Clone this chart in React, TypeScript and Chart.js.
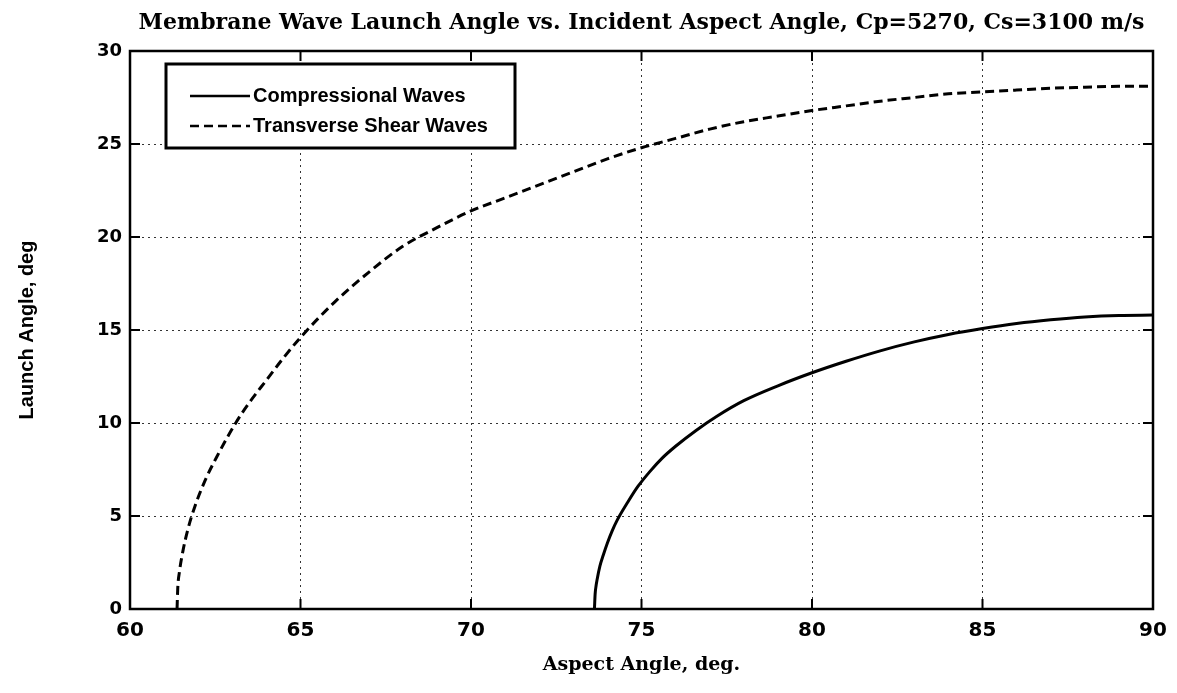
import React, { useEffect, useRef } from "react";
import { Chart, registerables } from "chart.js";

Chart.register(...registerables);

const titleText = "Membrane Wave Launch Angle vs. Incident Aspect Angle, Cp=5270, Cs=3100 m/s";
const xAxisTitle = "Aspect Angle, deg.";
const yAxisTitle = "Launch Angle, deg";
const seriesLabels = ["Compressional Waves", "Transverse Shear Waves"];

const xTicks = [60, 65, 70, 75, 80, 85, 90];
const yTicks = [0, 5, 10, 15, 20, 25, 30];

const compX = [73.62, 73.64, 73.66, 73.7, 73.78, 73.88, 74.0, 74.14, 74.28, 74.6, 74.9, 75.25, 75.6, 76.0, 76.6, 77.2, 78, 79, 80, 81, 82, 83, 84, 85, 86, 87, 88, 89, 90];
const compY = [0, 0.8, 1.15, 1.6, 2.3, 2.9, 3.55, 4.2, 4.75, 5.75, 6.6, 7.4, 8.1, 8.75, 9.6, 10.35, 11.2, 12.0, 12.7, 13.32, 13.88, 14.36, 14.76, 15.08, 15.35, 15.55, 15.7, 15.78, 15.8];

const shearX = [61.38, 61.4, 61.45, 61.55, 61.7, 61.9, 62.2, 62.55, 63.1, 63.5, 64, 64.5, 65, 66, 67, 68, 69, 70, 71, 72, 73, 74, 75, 76, 77, 78, 79, 80, 81, 82, 83, 84, 85, 86, 87, 88, 89, 90];
const shearY = [0, 1.1, 2.0, 3.1, 4.3, 5.5, 6.9, 8.2, 10.0, 11.1, 12.3, 13.5, 14.6, 16.5, 18.1, 19.5, 20.5, 21.4, 22.1, 22.8, 23.5, 24.2, 24.8, 25.3, 25.8, 26.2, 26.5, 26.8, 27.05, 27.3, 27.5, 27.7, 27.8, 27.9, 28.0, 28.05, 28.1, 28.1];

const seriesDash: number[][] = [[], [9, 5]];

const framePlugin = {
  id: "frame",
  afterDatasetsDraw(chart: any) {
    const { ctx, chartArea: a, scales } = chart;
    ctx.save();
    ctx.strokeStyle = "#000";
    ctx.setLineDash([]);
    ctx.lineWidth = 2;
    const tl = 10;
    ctx.beginPath();
    scales.x.ticks.forEach((t: any) => {
      const px = scales.x.getPixelForValue(t.value);
      ctx.moveTo(px, a.bottom);
      ctx.lineTo(px, a.bottom - tl);
      ctx.moveTo(px, a.top);
      ctx.lineTo(px, a.top + tl);
    });
    scales.y.ticks.forEach((t: any) => {
      const py = scales.y.getPixelForValue(t.value);
      ctx.moveTo(a.left, py);
      ctx.lineTo(a.left + tl, py);
      ctx.moveTo(a.right, py);
      ctx.lineTo(a.right - tl, py);
    });
    ctx.stroke();
    ctx.lineWidth = 2.5;
    ctx.strokeRect(a.left, a.top, a.right - a.left, a.bottom - a.top);
    ctx.restore();
  },
};

const legendPlugin = {
  id: "boxLegend",
  afterDraw(chart: any) {
    const { ctx, chartArea: a } = chart;
    const x0 = a.left + 36;
    const y0 = a.top + 13;
    const w = 349;
    const h = 84;
    ctx.save();
    ctx.fillStyle = "#fff";
    ctx.fillRect(x0, y0, w, h);
    ctx.strokeStyle = "#000";
    ctx.lineWidth = 3;
    ctx.setLineDash([]);
    ctx.strokeRect(x0, y0, w, h);
    ctx.font = "bold 20px 'Liberation Sans', Arial, sans-serif";
    ctx.textBaseline = "middle";
    ctx.fillStyle = "#000";
    chart.data.datasets.forEach((ds: any, i: number) => {
      const y = y0 + 32 + i * 30;
      ctx.beginPath();
      ctx.lineWidth = 2.5;
      ctx.setLineDash(ds.borderDash || []);
      ctx.moveTo(x0 + 24, y);
      ctx.lineTo(x0 + 84, y);
      ctx.stroke();
      ctx.setLineDash([]);
      ctx.fillText(ds.label, x0 + 87, y);
    });
    ctx.restore();
  },
};

export default function App() {
  const ref = useRef<HTMLCanvasElement | null>(null);

  useEffect(() => {
    if (!ref.current) return;
    const chart = new Chart(ref.current, {
      type: "line",
      data: {
        datasets: [
          {
            label: seriesLabels[0],
            data: compX.map((x, i) => ({ x, y: compY[i] })),
            borderColor: "#000",
            borderWidth: 3,
            borderDash: seriesDash[0],
            pointRadius: 0,
            fill: false,
            cubicInterpolationMode: "monotone",
          },
          {
            label: seriesLabels[1],
            data: shearX.map((x, i) => ({ x, y: shearY[i] })),
            borderColor: "#000",
            borderWidth: 3,
            borderDash: seriesDash[1],
            pointRadius: 0,
            fill: false,
            cubicInterpolationMode: "monotone",
          },
        ],
      },
      options: {
        animation: false,
        responsive: false,
        layout: { padding: { top: 0, right: 24, bottom: 0, left: 0 } },
        plugins: {
          legend: { display: false },
          tooltip: { enabled: false },
          title: {
            display: true,
            text: titleText,
            fullSize: false,
            color: "#000",
            font: { family: "'DejaVu Serif', serif", size: 22, weight: "bold", lineHeight: 1.2 },
            padding: { top: 10, bottom: 14.6 },
          },
        },
        scales: {
          x: {
            type: "linear",
            min: 60,
            max: 90,
            afterBuildTicks: (s: any) => {
              s.ticks = xTicks.map((v) => ({ value: v }));
            },
            afterFit: (s: any) => {
              s.height = 84;
            },
            grid: { color: "rgba(0,0,0,0.8)", lineWidth: 1, drawTicks: false },
            border: { display: false, dash: [2, 4] },
            ticks: {
              color: "#000",
              padding: 10,
              maxRotation: 0,
              font: { family: "'DejaVu Sans', sans-serif", size: 20, weight: "bold" },
            },
            title: {
              display: true,
              text: xAxisTitle,
              color: "#000",
              font: { family: "'DejaVu Serif', serif", size: 19, weight: "bold", lineHeight: 1.2 },
              padding: { top: 0, bottom: 16.6 },
            },
          },
          y: {
            type: "linear",
            min: 0,
            max: 30,
            afterBuildTicks: (s: any) => {
              s.ticks = yTicks.map((v) => ({ value: v }));
            },
            afterFit: (s: any) => {
              s.width = 130;
            },
            grid: { color: "rgba(0,0,0,0.8)", lineWidth: 1, drawTicks: false },
            border: { display: false, dash: [2, 4] },
            ticks: {
              color: "#000",
              padding: 8,
              font: { family: "'DejaVu Sans', sans-serif", size: 18, weight: "bold" },
            },
            title: {
              display: true,
              text: yAxisTitle,
              color: "#000",
              font: { family: "'Liberation Sans', Arial, sans-serif", size: 20, weight: "bold", lineHeight: 1.2 },
              padding: { top: 15, bottom: 0 },
            },
          },
        },
      },
      plugins: [framePlugin, legendPlugin],
    });
    return () => chart.destroy();
  }, []);

  return (
    <div style={{ position: "fixed", left: 0, top: 0, width: 1177, height: 693, background: "#fff" }}>
      <canvas ref={ref} width={1177} height={693} />
    </div>
  );
}
